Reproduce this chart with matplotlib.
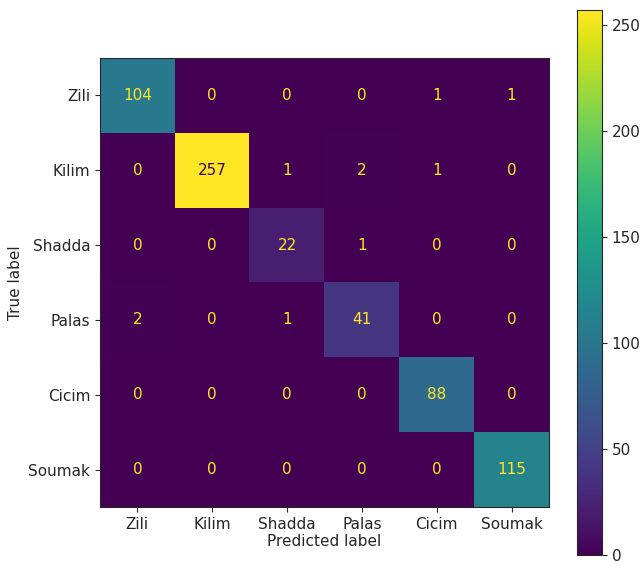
import numpy as np
import matplotlib.pyplot as plt

labels = ["Zili", "Kilim", "Shadda", "Palas", "Cicim", "Soumak"]
cm = np.array([
    [104, 0, 0, 0, 1, 1],
    [0, 257, 1, 2, 1, 0],
    [0, 0, 22, 1, 0, 0],
    [2, 0, 1, 41, 0, 0],
    [0, 0, 0, 0, 88, 0],
    [0, 0, 0, 0, 0, 115],
])

plt.rcParams['font.size'] = 11
plt.rcParams['text.color'] = '#262626'
plt.rcParams['axes.labelcolor'] = '#262626'
plt.rcParams['xtick.color'] = '#262626'
plt.rcParams['ytick.color'] = '#262626'
plt.rcParams['axes.edgecolor'] = '#262626'

fig = plt.figure(figsize=(6.4, 5.65), dpi=100)
ax = fig.add_axes([100 / 640, 58 / 565, 449 / 640, 449 / 565])
cax = fig.add_axes([577 / 640, 10 / 565, 25 / 640, 545 / 565])

cmap = plt.get_cmap('viridis')
im = ax.imshow(cm, cmap=cmap, interpolation='nearest')
thresh = (cm.max() + cm.min()) / 2
for i in range(cm.shape[0]):
    for j in range(cm.shape[1]):
        color = cmap(0.0) if cm[i, j] > thresh else cmap(1.0)
        ax.text(j, i, str(cm[i, j]), ha='center', va='center', color=color, fontsize=11)

ax.set_xticks(range(len(labels)))
ax.set_xticklabels(labels)
ax.set_yticks(range(len(labels)))
ax.set_yticklabels(labels)
ax.set_xlabel("Predicted label", labelpad=2)
ax.set_ylabel("True label")

cb = fig.colorbar(im, cax=cax)
cb.set_ticks([0, 50, 100, 150, 200, 250])
cb.outline.set_edgecolor('#262626')

fig.savefig("out.png", dpi=100)
